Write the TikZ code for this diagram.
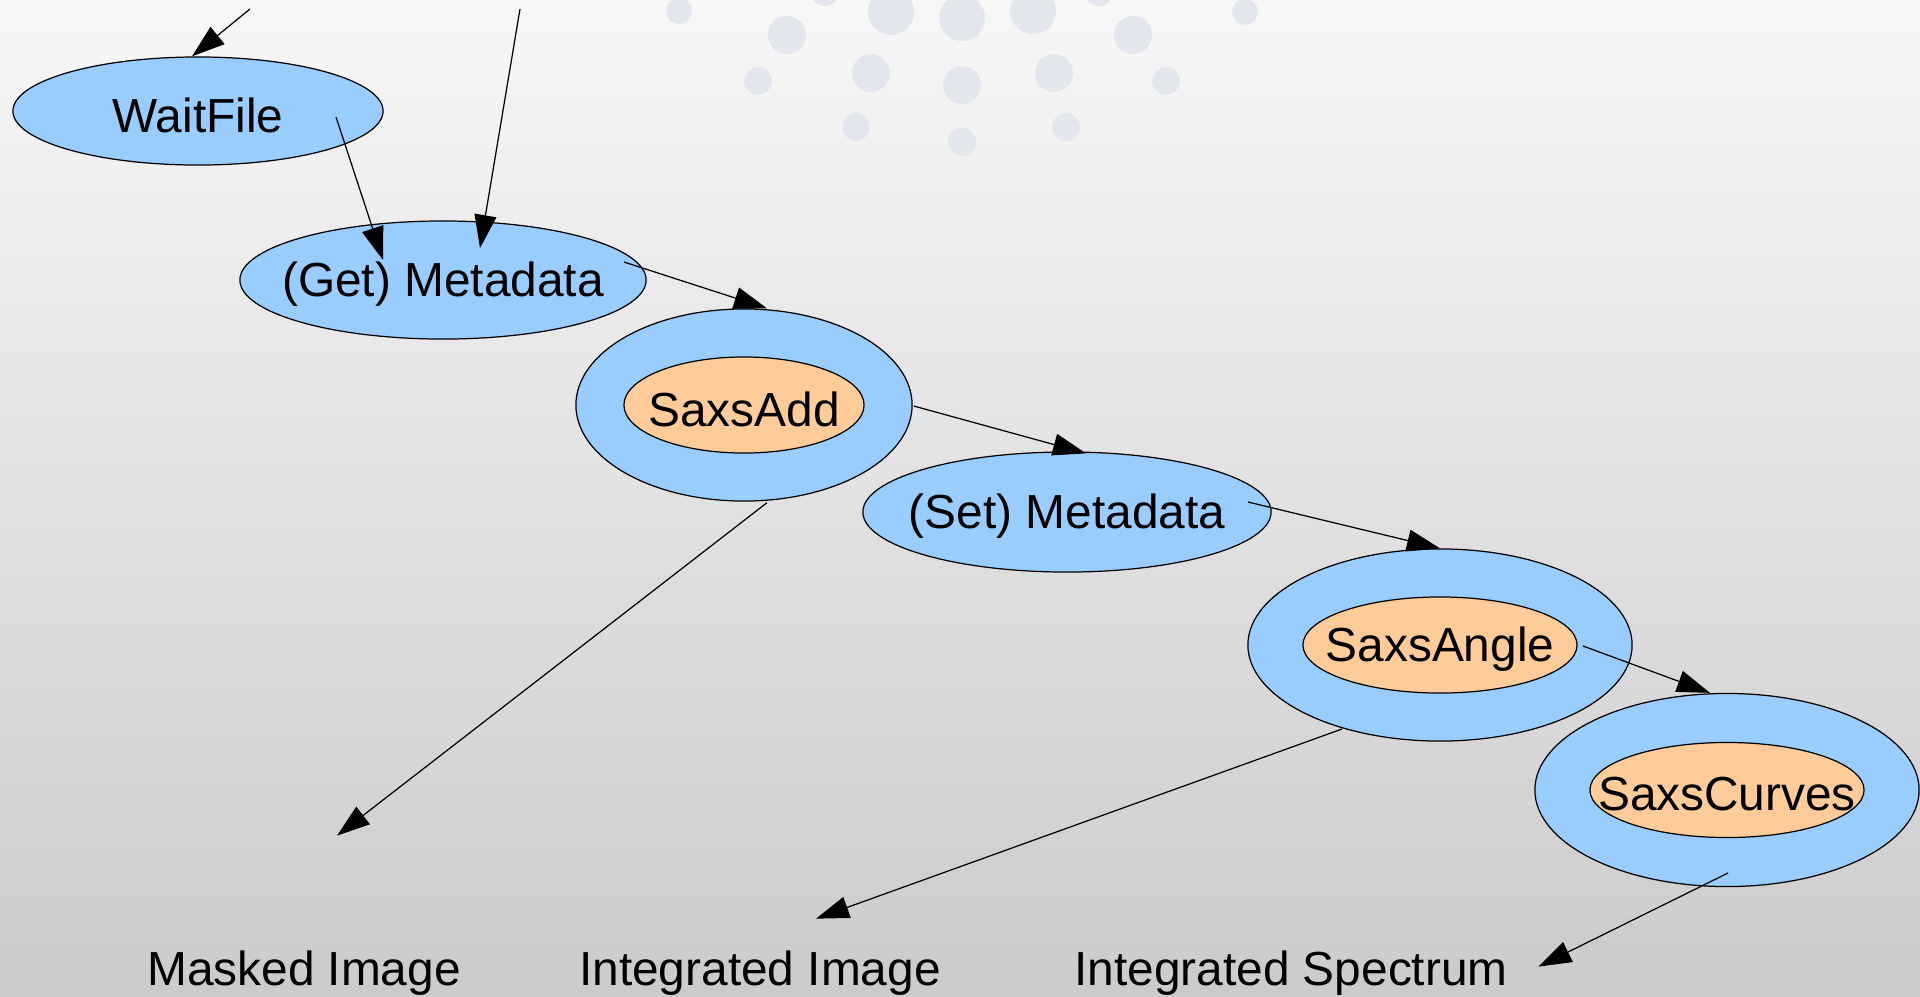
\documentclass[tikz,border=0pt]{standalone}
\usepackage{fontspec}
\setmainfont{Liberation Sans}
\usetikzlibrary{shapes.geometric,arrows.meta,calc}

\definecolor{blobblue}{RGB}{153,204,255}
\definecolor{bloborange}{RGB}{255,204,153}
\definecolor{bgtop}{RGB}{247,247,247}
\definecolor{bgbot}{RGB}{203,203,203}
\definecolor{dotgray}{RGB}{227,231,237}

\begin{document}
\begin{tikzpicture}[x=0.01cm,y=-0.01cm,
    txt/.style={font=\fontsize{13.6}{16}\selectfont,inner sep=0pt},
    inner/.style={txt,yshift=-0.045cm},
    blob/.style={ellipse,draw=black,line width=0.35pt,fill=blobblue,inner sep=0pt},
    core/.style={ellipse,draw=black,line width=0.35pt,fill=bloborange,inner sep=0pt},
    flow/.style={draw=black,line width=0.35pt,-{Triangle[length=3.3mm,width=2.2mm]}}]
  \useasboundingbox (0,0) rectangle (1920,996);
  \shade[top color=bgtop,bottom color=bgbot] (0,0) rectangle (1920,996);
  \foreach \x/\y/\r in {679/11/1.3mm,825/-8/1.4mm,891/12/2.3mm,962/18/2.3mm,1033/11/2.3mm,
      1099/-8/1.4mm,1245/12/1.3mm,787/35/1.9mm,1133/35/1.9mm,758/81/1.4mm,871/73/1.9mm,
      962/85/1.9mm,1054/73/1.9mm,1166/81/1.4mm,856/127/1.4mm,962/142/1.4mm,1066/127/1.4mm}
    \fill[dotgray] (\x,\y) circle[radius=\r];

  \node[blob,minimum width=3.70cm,minimum height=1.08cm,label={[inner]center:WaitFile}] (wait) at (198,111) {};
  \node[blob,minimum width=4.06cm,minimum height=1.18cm,label={[inner]center:(Get) Metadata}] (get) at (443,280) {};
  \node[blob,minimum width=3.36cm,minimum height=1.92cm] (addO) at (744,405) {};
  \node[core,minimum width=2.40cm,minimum height=0.96cm,label={[inner]center:SaxsAdd}] (add) at (addO) {};
  \node[blob,minimum width=4.08cm,minimum height=1.20cm,label={[inner]center:(Set) Metadata}] (set) at (1067,512) {};
  \node[blob,minimum width=3.84cm,minimum height=1.92cm] (angO) at (1440,645) {};
  \node[core,minimum width=2.74cm,minimum height=0.96cm,label={[inner]center:SaxsAngle}] (ang) at (angO) {};
  \node[blob,minimum width=3.84cm,minimum height=1.93cm] (curO) at (1727,790) {};
  \node[core,minimum width=2.74cm,minimum height=0.95cm,label={[inner]center:SaxsCurves}] (cur) at (curO) {};

  \node[txt,anchor=base] (masked) at (304,985) {Masked Image};
  \node[txt,anchor=base] (intimg) at (760,985) {Integrated Image};
  \node[txt,anchor=base] (spectrum) at (1291,985) {Integrated Spectrum};

  \coordinate (inWait) at (250,9);
  \coordinate (inGet) at (520,9);

  \draw[flow] (inWait) -- ($(wait.north)+(-6,0)$);
  \draw[flow] (inGet) -- ($(get)+(37,-32)$);
  \draw[flow] ($(wait)+(138,6)$) -- ($(get)+(-60,-20)$);
  \draw[flow] ($(get)+(181,-18)$) -- ($(addO.north)+(23,0)$);
  \draw[flow] ($(addO.east)+(1,1)$) -- ($(set.north)+(19,2)$);
  \draw[flow] ($(set)+(181,-10)$) -- (angO.north);
  \draw[flow] ($(ang)+(143,1)$) -- ($(curO.north)+(-17,0)$);
  \draw[flow] ($(addO.south)+(23,1)$) -- ($(masked.north)+(33,-114)$);
  \draw[flow] ($(angO)+(-98,84)$) -- ($(intimg.north)+(56,-31)$);
  \draw[flow] ($(curO)+(1,83)$) -- ($(spectrum.east)+(30,-6)$);
\end{tikzpicture}
\end{document}
